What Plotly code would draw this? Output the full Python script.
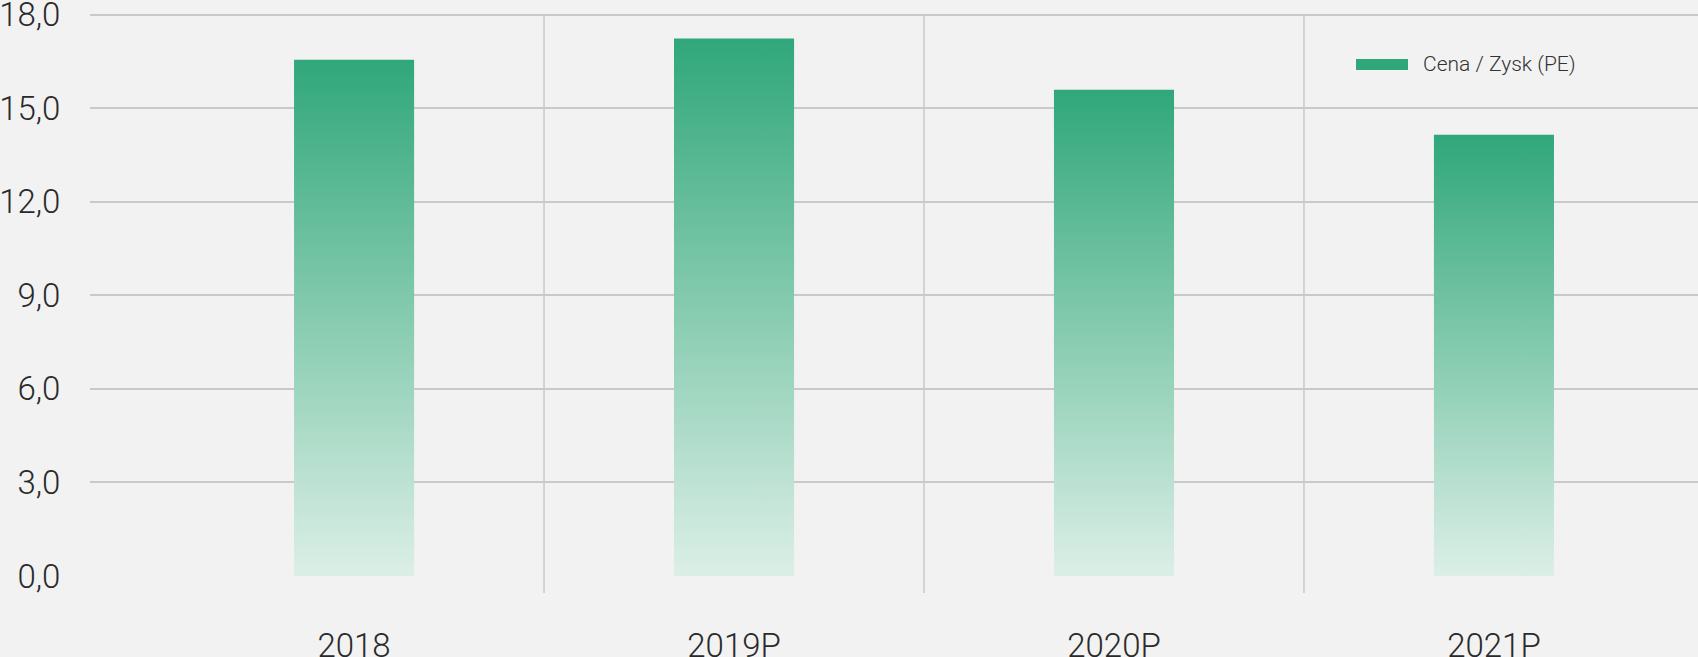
import plotly.graph_objects as go

categories = ["2018", "2019P", "2020P", "2021P"]
pe_values = [16.55, 17.23, 15.59, 14.15]
y_tickvals = [0, 3, 6, 9, 12, 15, 18]
y_ticktext = ["0,0", "3,0", "6,0", "9,0", "12,0", "15,0", "18,0"]
series_name = "Cena / Zysk (PE)"

BG = "#f2f2f2"
GRID = "#c9c9c9"
TOP = "#30a77b"
BOTTOM = "#dcefe6"
HALF_W = 0.158

fig = go.Figure()
for i, (cat, v) in enumerate(zip(categories, pe_values)):
    fig.add_trace(go.Scatter(
        x=[i - HALF_W, i - HALF_W, i + HALF_W, i + HALF_W, i - HALF_W],
        y=[0, v, v, 0, 0],
        mode="lines", line=dict(width=0),
        fill="toself",
        fillgradient=dict(type="vertical", start=0, stop=v,
                          colorscale=[[0, BOTTOM], [1, TOP]]),
        name=cat, showlegend=False, hoverinfo="skip",
    ))

PLOT_TOP, PLOT_BOT = 13, 576
ph = PLOT_BOT - PLOT_TOP
YMAX = 18.05

def ypx(p):
    return (PLOT_BOT - p) / ph

# vertical separators between categories
for b in [0.5, 1.5, 2.5]:
    fig.add_shape(type="line", xref="x", yref="paper", x0=b, x1=b,
                  y0=ypx(593), y1=ypx(15), line=dict(color=GRID, width=1.5), layer="below")

# legend (drawn)
fig.add_shape(type="rect", xref="paper", yref="paper",
              x0=(1356 - 90) / 1608, x1=(1408 - 90) / 1608,
              y0=ypx(70), y1=ypx(59),
              fillcolor=TOP, line=dict(width=0))
fig.add_annotation(xref="paper", yref="paper", x=(1421 - 90) / 1608, y=ypx(64),
                   text=series_name, showarrow=False, xanchor="left", yanchor="middle",
                   font=dict(family="Roboto", size=21, color="#333333", weight=300))

fig.update_layout(
    width=1698, height=657,
    paper_bgcolor=BG, plot_bgcolor=BG,
    margin=dict(l=90, r=0, t=PLOT_TOP, b=657 - PLOT_BOT),
    showlegend=False,
    font=dict(family="Roboto", color="#2a2a2a"),
    xaxis=dict(range=[-0.695, 3.537], tickvals=list(range(len(categories))),
               ticktext=categories, showgrid=False, zeroline=False,
               automargin=False, ticklabeloverflow="allow",
               ticks="outside", ticklen=40, tickcolor="rgba(0,0,0,0)",
               tickfont=dict(size=33, family="Roboto", weight=300)),
    yaxis=dict(range=[0, YMAX], tickvals=y_tickvals, ticktext=y_ticktext,
               showgrid=True, gridcolor=GRID, gridwidth=1.5, zeroline=False,
               automargin=False, ticklabeloverflow="allow",
               ticks="outside", ticklen=22, tickcolor="rgba(0,0,0,0)",
               tickfont=dict(size=33, family="Roboto", weight=300)),
)

fig.write_html(
    "out.html",
    config={"displayModeBar": False},
    post_script="document.documentElement.style.margin='0';document.body.style.margin='0';"
                "document.body.style.overflow='hidden';document.body.style.background='#f2f2f2';",
)
